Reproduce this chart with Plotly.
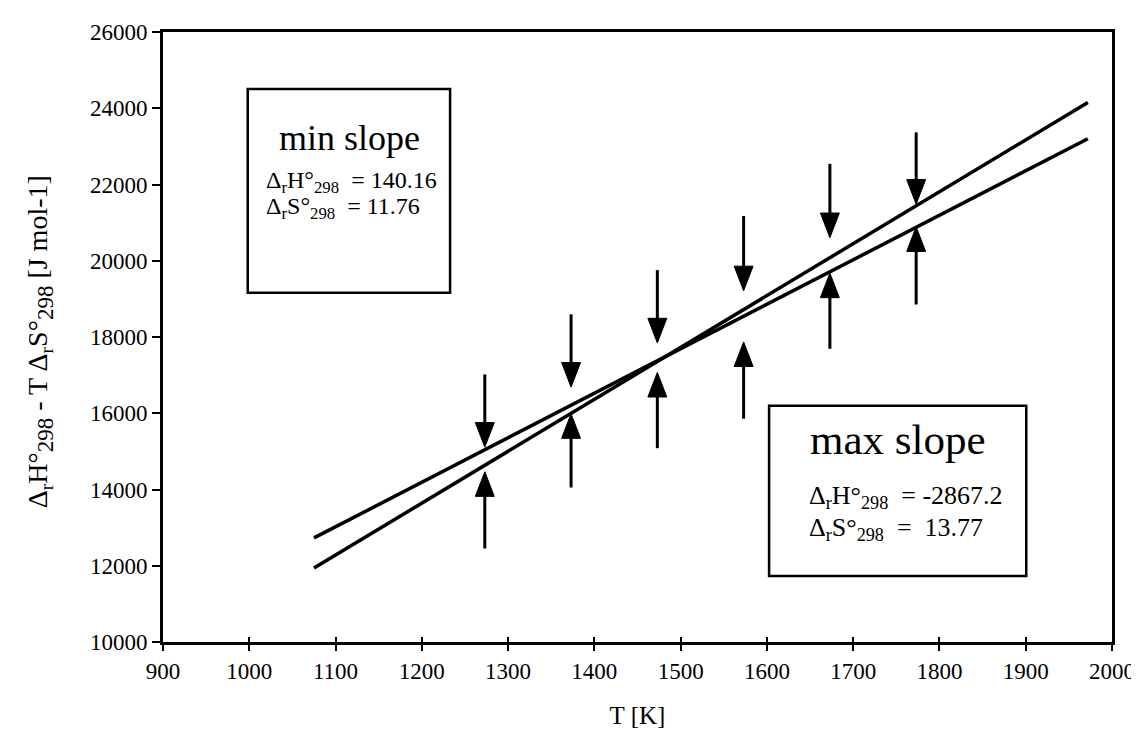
import plotly.graph_objects as go

# ---- data ----
line_T = [1075, 1972]
min_slope_y = [12730, 23200]     # shallower fit line (min slope)
max_slope_y = [11940, 24150]     # steeper fit line (max slope)

arrow_T = [1273, 1373, 1473, 1573, 1673, 1773]
down_tip = [15110, 16684, 17845, 19213, 20606, 21484]
down_tail = [17019, 18594, 19755, 21174, 22542, 23368]
up_tip = [14465, 15987, 17071, 17871, 19677, 20890]
up_tail = [12452, 14052, 15084, 15858, 17690, 18852]

x_ticks = list(range(900, 2001, 100))
y_ticks = list(range(10000, 26001, 2000))

# ---- style ----
FONT = "Liberation Serif"
L, R, T_, B = 155, 32, 20, 89
W, H = 1139, 729
PW, PH = W - L - R, H - T_ - B
XR = (900, 2000)
YR = (10000, 26000)
HEAD_LEN_PX = 25
HEAD_HALF_W_PX = 9.5
k_per_px = (XR[1] - XR[0]) / PW
u_per_px = (YR[1] - YR[0]) / PH
hl = HEAD_LEN_PX * u_per_px
hw = HEAD_HALF_W_PX * k_per_px


def px(x):
    return (x - L) / PW


def py(y):
    return (H - B - y) / PH


fig = go.Figure()

for ys in (min_slope_y, max_slope_y):
    fig.add_trace(go.Scatter(x=line_T, y=ys, mode="lines",
                             line=dict(color="black", width=3.5),
                             hoverinfo="skip", showlegend=False))

# arrow shafts
sx, sy = [], []
for t, tip, tail in zip(arrow_T, down_tip, down_tail):
    sx += [t, t, None]
    sy += [tail, tip + hl * 0.9, None]
for t, tip, tail in zip(arrow_T, up_tip, up_tail):
    sx += [t, t, None]
    sy += [tail, tip - hl * 0.9, None]
fig.add_trace(go.Scatter(x=sx, y=sy, mode="lines",
                         line=dict(color="black", width=3),
                         hoverinfo="skip", showlegend=False))

# arrow heads
hx, hy = [], []
for t, tip in zip(arrow_T, down_tip):
    hx += [t, t - hw, t + hw, t, None]
    hy += [tip, tip + hl, tip + hl, tip, None]
for t, tip in zip(arrow_T, up_tip):
    hx += [t, t - hw, t + hw, t, None]
    hy += [tip, tip - hl, tip - hl, tip, None]
fig.add_trace(go.Scatter(x=hx, y=hy, mode="lines", fill="toself",
                         fillcolor="black", line=dict(color="black", width=1),
                         hoverinfo="skip", showlegend=False))

# text boxes
boxes = [(240, 78, 443, 285), (763, 400, 1021, 573)]
for (x0, y0, x1, y1) in boxes:
    fig.add_shape(type="rect", xref="paper", yref="paper",
                  x0=px(x0), x1=px(x1), y0=py(y1), y1=py(y0),
                  line=dict(color="black", width=2.5), fillcolor="white",
                  layer="below")

SUB = "<sub><span style='font-size:23px'>{}</span></sub>"
ytitle = ("Δ<sub>r</sub>H°" + SUB.format("298") + " - T Δ<sub>r</sub>S°"
          + SUB.format("298") + " [J mol-1]")

ann = []
ann.append(dict(x=px(342), y=py(128), text="min slope",
                font=dict(size=36, family=FONT, color="black")))
ann.append(dict(x=px(256), y=py(172), xanchor="left",
                text="Δ<sub>r</sub>H°<sub>298</sub>  = 140.16",
                font=dict(size=24, family=FONT, color="black")))
ann.append(dict(x=px(256), y=py(199), xanchor="left",
                text="Δ<sub>r</sub>S°<sub>298</sub>  = 11.76",
                font=dict(size=24, family=FONT, color="black")))
ann.append(dict(x=px(892), y=py(434), text="max slope",
                font=dict(size=43, family=FONT, color="black")))
ann.append(dict(x=px(801), y=py(493), xanchor="left",
                text="Δ<sub>r</sub>H°<sub>298</sub>  = -2867.2",
                font=dict(size=26, family=FONT, color="black")))
ann.append(dict(x=px(801), y=py(525), xanchor="left",
                text="Δ<sub>r</sub>S°<sub>298</sub>  =  13.77",
                font=dict(size=26, family=FONT, color="black")))
# y-axis title as rotated annotation
ann.append(dict(x=px(32), y=py(335), textangle=-90, text=ytitle,
                font=dict(size=28, family=FONT, color="black")))
for a in ann:
    a.update(xref="paper", yref="paper", showarrow=False)
    a.setdefault("xanchor", "center")
    a["yanchor"] = "middle"

fig.update_layout(
    width=W, height=H, autosize=False,
    margin=dict(l=L, r=R, t=T_, b=B),
    paper_bgcolor="white", plot_bgcolor="white",
    font=dict(family=FONT, size=23, color="black"),
    annotations=ann,
    xaxis=dict(range=list(XR), tickvals=x_ticks, ticktext=[str(v) for v in x_ticks],
               showgrid=False, zeroline=False, showline=True, linecolor="black",
               linewidth=3, mirror=True, ticks="outside", ticklen=6, tickwidth=2,
               tickcolor="black", tickfont=dict(size=23, family=FONT),
               title=dict(text="T [K]", font=dict(size=25, family=FONT), standoff=24)),
    xaxis2=dict(range=list(XR), overlaying="x", tickvals=x_ticks, showticklabels=False,
                showgrid=False, zeroline=False, showline=False, ticks="inside",
                ticklen=5, tickwidth=2, tickcolor="black", side="bottom",
                anchor="y"),
    yaxis=dict(range=list(YR), tickvals=y_ticks, ticktext=[str(v) for v in y_ticks],
               showgrid=False, zeroline=False, showline=True, linecolor="black",
               linewidth=3, mirror=True, ticks="outside", ticklen=8, tickwidth=2,
               tickcolor="black", tickfont=dict(size=23, family=FONT)),
)
# dummy trace to activate xaxis2
fig.add_trace(go.Scatter(x=[XR[0]], y=[YR[0]], xaxis="x2", mode="markers",
                         marker=dict(opacity=0), hoverinfo="skip", showlegend=False))

fig.write_html("out.html")
